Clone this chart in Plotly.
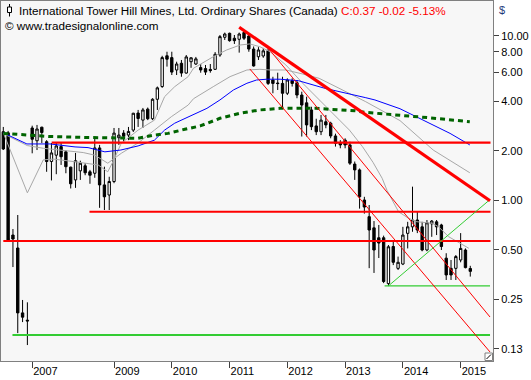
import plotly.graph_objects as go

# ---------------- data ----------------
# monthly candles, indexed by bar number (0 = first bar on the chart)
opens = [2.61, 2.57, 0.615, 0.513, 0.207, 0.187, 2.75, 2.30, 2.78, 2.27,
         1.72, 1.88, 2.12, 1.97, 1.59, 1.33, 1.51, 1.62, 1.49, 1.46,
         2.08, 1.24, 1.077, 1.30, 2.40, 2.56, 2.49, 2.67, 3.39, 3.07,
         3.58, 3.13, 4.11, 4.91, 7.55, 7.36, 6.19, 6.80, 5.93, 6.95,
         6.73, 6.40, 6.31, 6.24, 6.25, 7.63, 9.78, 10.34, 9.65, 9.51,
         10.44, 9.96, 8.30, 7.45, 7.53, 8.11, 5.38, 5.16, 5.13, 4.47,
         5.33, 5.18, 4.36, 3.91, 3.54, 2.83, 2.61, 3.00, 2.94, 2.46,
         2.22, 2.32, 2.17, 1.66, 1.53, 1.004, 0.795, 0.68, 0.592, 0.592,
         0.312, 0.524, 0.386, 0.41, 0.63, 0.69, 0.759, 0.69, 0.499, 0.72,
         0.74, 0.708, 0.445, 0.386, 0.386, 0.434, 0.499, 0.385]
highs = [2.79, 2.64, 0.669, 0.814, 0.248, 0.240, 2.84, 2.87, 2.80, 2.32,
         2.23, 2.23, 2.23, 2.02, 1.60, 1.94, 1.74, 1.68, 1.53, 2.39,
         2.17, 1.60, 1.39, 2.75, 2.75, 2.67, 2.79, 3.40, 3.54, 3.64,
         3.66, 4.17, 4.91, 7.55, 7.99, 7.99, 6.95, 7.12, 7.63, 7.40,
         7.43, 6.73, 6.64, 6.73, 7.95, 10.10, 10.44, 10.44, 10.10, 10.44,
         10.69, 10.10, 8.60, 8.52, 8.43, 8.35, 5.63, 5.96, 5.63, 5.51,
         5.51, 5.38, 4.57, 4.26, 3.70, 3.13, 3.30, 3.30, 3.00, 2.54,
         2.32, 2.38, 2.27, 1.72, 1.56, 1.05, 0.936, 0.748, 0.708, 0.61,
         0.535, 0.574, 0.455, 0.69, 0.74, 1.21, 0.85, 0.74, 0.759, 0.759,
         0.759, 0.72, 0.477, 0.434, 0.465, 0.632, 0.51, 0.40]
lows = [2.02, 0.566, 0.393, 0.156, 0.182, 0.132, 1.93, 2.02, 2.23, 1.49,
        1.32, 1.44, 1.64, 1.46, 1.18, 1.19, 1.33, 1.42, 1.26, 1.37,
        0.90, 0.873, 0.873, 1.27, 2.17, 2.27, 2.32, 2.60, 2.79, 2.75,
        3.07, 3.07, 3.54, 4.82, 6.49, 5.77, 5.77, 5.63, 5.88, 6.38,
        6.64, 5.96, 5.77, 5.96, 6.19, 7.45, 9.42, 9.20, 8.91, 7.89,
        9.42, 7.99, 6.49, 7.12, 7.34, 5.02, 4.47, 4.68, 3.63, 4.36,
        4.91, 4.17, 2.44, 2.44, 2.67, 2.49, 2.49, 2.74, 2.38, 2.12,
        2.07, 2.07, 1.64, 1.33, 0.89, 0.83, 0.387, 0.362, 0.446, 0.314,
        0.302, 0.404, 0.377, 0.404, 0.51, 0.644, 0.632, 0.49, 0.49, 0.60,
        0.615, 0.499, 0.328, 0.328, 0.328, 0.42, 0.386, 0.344]
closes = [2.05, 0.574, 0.582, 0.207, 0.195, 0.185, 2.35, 2.71, 2.58, 1.72,
          1.94, 2.14, 1.84, 1.60, 1.26, 1.74, 1.68, 1.47, 1.42, 2.08,
          1.24, 1.05, 1.30, 2.56, 2.49, 2.45, 2.62, 3.38, 3.14, 3.54,
          3.13, 4.11, 4.82, 7.36, 7.20, 6.01, 6.73, 5.93, 7.43, 7.34,
          7.23, 6.19, 6.01, 6.14, 7.71, 9.87, 10.24, 9.33, 9.33, 10.24,
          9.65, 8.30, 6.55, 8.19, 8.09, 5.13, 5.13, 5.12, 4.47, 5.38,
          5.13, 4.36, 3.79, 2.87, 2.80, 2.61, 3.07, 2.87, 2.46, 2.22,
          2.17, 2.17, 1.68, 1.53, 1.05, 0.91, 0.66, 0.499, 0.55, 0.321,
          0.522, 0.42, 0.42, 0.615, 0.69, 0.759, 0.66, 0.499, 0.73, 0.748,
          0.69, 0.524, 0.352, 0.352, 0.455, 0.51, 0.39, 0.37]
bars = list(range(len(opens)))

# x axis: bar index where each labelled year begins
year_ticks = [6, 23, 35, 47, 59, 71, 83, 95]
year_labels = ["2007", "2009", "2010", "2011", "2012", "2013", "2014", "2015"]

# y axis (log)
price_ticks = [10, 8, 6, 4, 2, 1, 0.5, 0.25, 0.125]
price_labels = ["10.00", "8.00", "6.00", "4.00", "2.00", "1.00", "0.50", "0.25", "0.13"]

# indicator lines: (bar index, price)
blue_x = [0, 4.9, 9.7, 14.9, 17.6, 21.1, 24.4, 28.0, 31.4, 33.5, 35.6, 38.4,
          42.3, 45.0, 47.8, 50.6, 52.6, 54.7, 57.5, 61.3, 66.8, 75.3, 77.2,
          82.4, 88.6, 92.8, 96.9]
blue_y = [2.57, 2.20, 2.20, 2.11, 2.09, 1.97, 2.02, 2.14, 2.32, 2.67, 2.94, 3.22,
          3.62, 4.07, 4.68, 5.14, 5.38, 5.44, 5.44, 5.33, 4.79, 4.20, 4.07,
          3.60, 2.95, 2.55, 2.17]

green_ma_x = [0, 4.9, 9.7, 17.0, 24.4, 28.0, 31.4, 34.2, 37.7, 40.9, 45.0, 49.2,
              53.3, 57.5, 64.8, 68.9, 73.1, 75.3, 82.4, 88.6, 96.9]
green_ma_y = [2.55, 2.49, 2.44, 2.41, 2.38, 2.38, 2.49, 2.55, 2.70, 2.83, 3.15, 3.38,
              3.54, 3.62, 3.62, 3.56, 3.50, 3.42, 3.30, 3.17, 3.00]

gray_fast_x = [0, 5.0, 8.3, 10.4, 14.5, 17.6, 19.7, 21.7, 22.8, 24.5, 28.0, 31.4,
               33.5, 35.6, 38.4, 39.5, 43.6, 46.4, 49.2, 51.2, 53.3, 55.4, 58.7,
               62.2, 65.6, 69.1, 71.9, 74.6, 76.8, 78.7, 79.7, 82.1, 84.2, 85.9,
               89.1, 90.4, 92.5, 94.9, 96.7]
gray_fast_y = [2.57, 1.11, 1.76, 1.78, 1.72, 1.68, 1.64, 1.49, 1.72, 2.22, 2.67, 3.07,
               4.26, 4.90, 5.64, 6.34, 7.45, 8.19, 8.78, 8.91, 8.57, 8.00, 6.64,
               5.14, 4.07, 3.22, 2.67, 2.12, 1.70, 1.36, 1.15, 0.852, 0.777, 0.741,
               0.725, 0.691, 0.601, 0.548, 0.511]

gray_slow_x = [0, 5.0, 8.3, 13.2, 16.6, 19.0, 21.7, 24.5, 28.0, 31.4, 34.9, 38.4,
               39.5, 43.6, 47.1, 50.6, 53.3, 55.4, 58.7, 62.2, 65.6, 69.1, 72.6,
               75.3, 82.4, 89.3, 96.9]
gray_slow_y = [2.54, 2.15, 2.07, 2.00, 1.95, 1.88, 1.68, 1.93, 2.23, 2.67, 3.22, 3.79,
               4.14, 4.90, 5.64, 6.19, 6.25, 6.19, 6.19, 5.85, 5.51, 4.90, 4.36,
               3.97, 3.05, 2.02, 1.47]

# drawn support / resistance lines: price level, first bar, last bar
red_levels = [2.24, 0.852, 0.566]
red_starts = [10.05, 17.9, 0.0]
green_levels = [0.152, 0.302]
green_starts = [1.9, 79.2]
line_end = 101.2

# drawn trend lines: (bar, price) -> (bar, price)
thick_red = ([49.0, 101.1], [11.25, 0.993])
thin_red_a = ([51.2, 101.1], [6.28, 0.1198])
thin_red_b = ([55.0, 101.1], [8.42, 0.1954])
green_diag = ([80.0, 101.1], [0.302, 1.011])

# ---------------- figure ----------------
W, H = 531, 380
ML, MR, MT, MB = 1, 38, 1, 19
PW, PH = W - ML - MR, H - MT - MB


def px(xp):
    return (xp - ML) / PW


def py(yp):
    return (H - MB - yp) / PH


fig = go.Figure()

fig.add_trace(go.Candlestick(
    x=bars, open=opens, high=highs, low=lows, close=closes,
    increasing=dict(line=dict(color="black", width=1), fillcolor="white"),
    decreasing=dict(line=dict(color="black", width=1), fillcolor="black"),
    whiskerwidth=0, showlegend=False, hoverinfo="skip"))

fig.add_trace(go.Scatter(x=gray_slow_x, y=gray_slow_y, mode="lines",
                         line=dict(color="#a8a8a8", width=1), hoverinfo="skip"))
fig.add_trace(go.Scatter(x=gray_fast_x, y=gray_fast_y, mode="lines",
                         line=dict(color="#a8a8a8", width=1), hoverinfo="skip"))
fig.add_trace(go.Scatter(x=blue_x, y=blue_y, mode="lines",
                         line=dict(color="#0000ff", width=1), hoverinfo="skip"))
fig.add_trace(go.Scatter(x=green_ma_x, y=green_ma_y, mode="lines",
                         line=dict(color="#006400", width=3, dash="5px,4px"),
                         hoverinfo="skip"))

for lvl, st in zip(red_levels, red_starts):
    fig.add_trace(go.Scatter(x=[st, line_end], y=[lvl, lvl], mode="lines",
                             line=dict(color="#ff0000", width=2.2), hoverinfo="skip"))
for i, (lvl, st) in enumerate(zip(green_levels, green_starts)):
    fig.add_trace(go.Scatter(x=[st, line_end - 0.1], y=[lvl, lvl], mode="lines",
                             line=dict(color="#33cc33", width=2 if i == 0 else 1.3),
                             hoverinfo="skip"))

fig.add_trace(go.Scatter(x=thin_red_a[0], y=thin_red_a[1], mode="lines",
                         line=dict(color="#ff0000", width=1), hoverinfo="skip"))
fig.add_trace(go.Scatter(x=thin_red_b[0], y=thin_red_b[1], mode="lines",
                         line=dict(color="#ff0000", width=1), hoverinfo="skip"))
fig.add_trace(go.Scatter(x=green_diag[0], y=green_diag[1], mode="lines",
                         line=dict(color="#33cc33", width=1), hoverinfo="skip"))
fig.add_trace(go.Scatter(x=thick_red[0], y=thick_red[1], mode="lines",
                         line=dict(color="#ff0000", width=3.2), hoverinfo="skip"))

FONT = "Liberation Sans, Arial, sans-serif"

annotations = [
    dict(xref="paper", yref="paper", x=px(17), y=py(10), xanchor="left", yanchor="middle",
         showarrow=False, font=dict(family=FONT, size=11.7, color="black"),
         text="International Tower Hill Mines, Ltd. Ordinary Shares (Canada) "
              "<span style='color:#ff0000'>C:0.37 -0.02 -5.13%</span>"),
    dict(xref="paper", yref="paper", x=px(3), y=py(25.5), xanchor="left", yanchor="middle",
         showarrow=False, font=dict(family=FONT, size=11.7, color="black"),
         text="© www.tradesignalonline.com"),
    dict(xref="paper", yref="paper", x=px(497), y=py(10), xanchor="left", yanchor="middle",
         showarrow=False, font=dict(family=FONT, size=11, color="#1f3a7a"), text="$"),
]

shapes = [
    # small candle icon in the title
    dict(type="line", xref="paper", yref="paper", x0=px(9.5), x1=px(9.5), y0=py(4), y1=py(16.5),
         line=dict(color="black", width=1)),
    dict(type="rect", xref="paper", yref="paper", x0=px(7.5), x1=px(11.5), y0=py(7), y1=py(12.5),
         line=dict(color="black", width=1), fillcolor="white"),
    # resize box at the lower right corner
    dict(type="rect", xref="paper", yref="paper", x0=px(485), x1=px(492.5), y0=py(353), y1=py(360.5),
         line=dict(color="#808080", width=1), fillcolor="white"),
    dict(type="line", xref="paper", yref="paper", x0=px(486.5), x1=px(491), y0=py(359), y1=py(354.5),
         line=dict(color="black", width=1)),
]

fig.update_layout(
    width=W, height=H,
    margin=dict(l=ML, r=MR, t=MT, b=MB, pad=0),
    paper_bgcolor="white", plot_bgcolor="#f7f7f7",
    showlegend=False,
    font=dict(family=FONT, size=11, color="black"),
    annotations=annotations, shapes=shapes,
    xaxis=dict(range=[-0.48, 101.72], tickmode="array", tickvals=year_ticks,
               ticktext=year_labels, ticks="outside", ticklen=6, tickcolor="#404040",
               ticklabelposition="outside right", showgrid=False, zeroline=False,
               showline=True, linecolor="#808080", linewidth=1, mirror=True,
               rangeslider=dict(visible=False), fixedrange=True,
               tickfont=dict(family=FONT, size=11, color="black")),
    yaxis=dict(type="log", range=[-0.9763, 1.2108], side="right", tickmode="array",
               tickvals=price_ticks, ticktext=price_labels, ticks="outside", ticklen=5,
               tickcolor="#404040", showgrid=False, zeroline=False,
               showline=True, linecolor="#808080", linewidth=1, mirror=True,
               fixedrange=True, tickfont=dict(family=FONT, size=11, color="black")),
)

fig.write_html("out.html", config={"displayModeBar": False},
               post_script="document.body.style.margin='0';document.body.style.padding='0';")
